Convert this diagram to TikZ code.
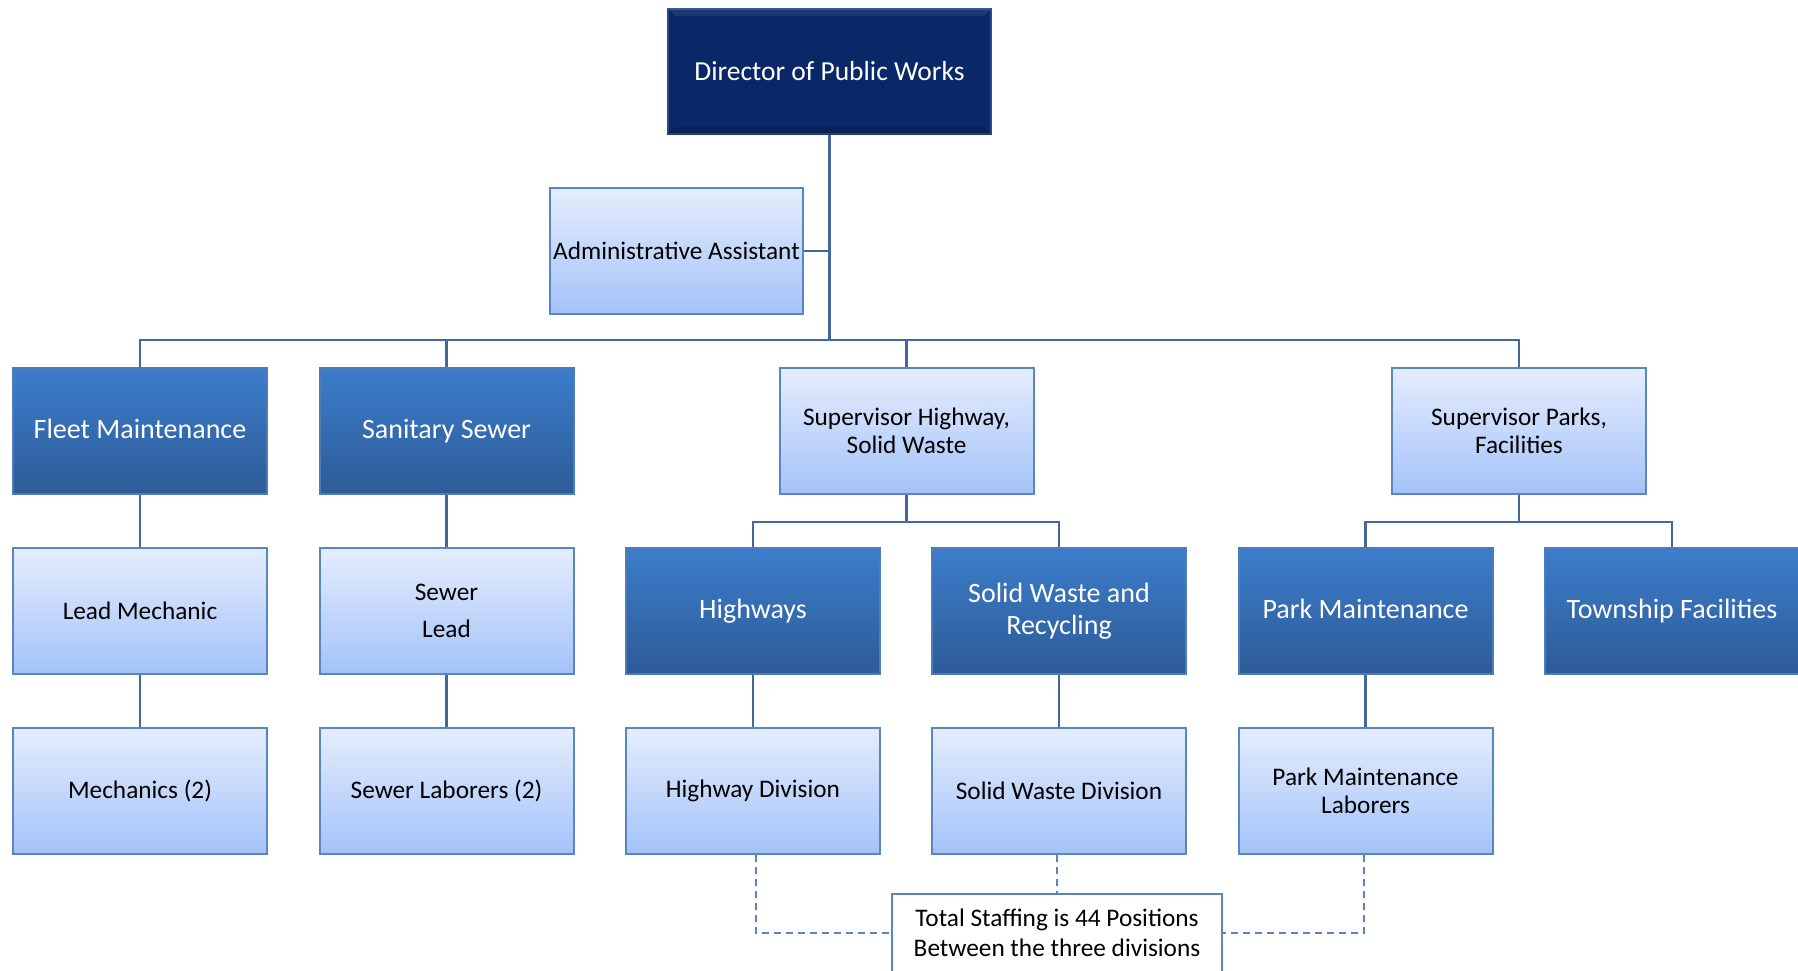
\documentclass[tikz,border=0pt]{standalone}
\usepackage{fontspec}
\setmainfont{Carlito}
\definecolor{darktop}{HTML}{3C7DCB}
\definecolor{darkbot}{HTML}{2D5B97}
\definecolor{darkedge}{HTML}{4D7CB9}
\definecolor{lighttop}{HTML}{E4EDFD}
\definecolor{lightbot}{HTML}{A4C2F9}
\definecolor{lightedge}{HTML}{5A86C0}
\definecolor{linec}{HTML}{41699E}
\definecolor{dashcol}{HTML}{5A86C0}
\definecolor{navy}{HTML}{0A2868}
\definecolor{navyedge}{HTML}{2A4B85}
\tikzset{
  box/.style={rectangle, minimum width=254pt, minimum height=126pt, line width=2pt, inner sep=2pt, align=center},
  darkbox/.style={box, draw=darkedge, top color=darktop, bottom color=darkbot, text=white, font=\fontsize{28}{32}\selectfont},
  lightbox/.style={box, draw=lightedge, top color=lighttop, bottom color=lightbot, text=black, font=\fontsize{25.3}{28.5}\selectfont},
  conn/.style={draw=linec, line width=2.5pt},
  dashc/.style={draw=dashcol, line width=2pt, dash pattern=on 7pt off 5pt},
}
\begin{document}
\begin{tikzpicture}[x=1pt,y=-1pt]
\useasboundingbox (0,0) rectangle (1798,970);
% director
\node[rectangle, minimum width=323pt, minimum height=125pt, fill=navy, draw=navyedge, line width=2pt, text=white, font=\fontsize{27.5}{32}\selectfont] (dir) at (829.5,71.5) {Director of Public Works};
\fill[white, opacity=0.08] (dir.north west) -- (dir.north east) -- ([xshift=-8pt,yshift=-8pt]dir.north east) -- ([xshift=8pt,yshift=-8pt]dir.north west) -- cycle;
\fill[black, opacity=0.15] (dir.south west) -- (dir.south east) -- ([xshift=-8pt,yshift=8pt]dir.south east) -- ([xshift=8pt,yshift=8pt]dir.south west) -- cycle;
\node[lightbox, minimum width=253pt] (admin) at (676.5,251) {Administrative Assistant};
% row 1
\node[darkbox] (fleet) at (140,431) {Fleet Maintenance\vphantom{y}};
\node[darkbox] (sewer) at (446.5,431) {Sanitary Sewer};
\node[lightbox] (suphw) at (906.5,431) {Supervisor Highway,\\Solid Waste};
\node[lightbox] (suppk) at (1519,431) {Supervisor Parks,\\Facilities};
% row 2
\node[lightbox] (leadmech) at (140,611) {Lead Mechanic};
\node[lightbox] (sewerlead) at (446.5,611) {Sewer\\[9pt]Lead};
\node[darkbox] (hw) at (753,611) {Highways};
\node[darkbox] (sw) at (1059,611) {Solid Waste and\\Recycling};
\node[darkbox] (pm) at (1365.5,611) {Park Maintenance\vphantom{y}};
\node[darkbox] (tf) at (1672,611) {Township Facilities};
% row 3
\node[lightbox] (mech) at (140,791) {Mechanics (2)};
\node[lightbox] (laborers) at (446.5,791) {Sewer Laborers (2)};
\node[lightbox] (hwdiv) at (753,791) {Highway Division};
\node[lightbox] (swdiv) at (1059,791) {Solid Waste Division};
\node[lightbox] (pmlab) at (1365.5,791) {Park Maintenance\\Laborers};
% total
\node[rectangle, minimum width=330pt, minimum height=78pt, fill=white, draw=lightedge, line width=1.5pt, align=center, font=\fontsize{25.3}{30}\selectfont] (total) at (1057,933) {Total Staffing is 44 Positions\\Between the three divisions};
% connectors
\coordinate (b0) at (829.5,340);
\draw[conn] (dir.south) -- (b0);
\draw[conn] (admin.east) -- (admin.east -| dir.south);
\draw[conn] (fleet.north) |- (b0) -| (suppk.north);
\draw[conn] (sewer.north) -- (sewer.north |- b0);
\draw[conn] (suphw.north) -- (suphw.north |- b0);
\coordinate (s1) at (906.5,522);
\coordinate (s2) at (1519,522);
\draw[conn] (suphw.south) -- (s1);
\draw[conn] (hw.north) |- (s1) -| (sw.north);
\draw[conn] (suppk.south) -- (s2);
\draw[conn] (pm.north) |- (s2) -| (tf.north);
\draw[conn] (fleet.south) -- (leadmech.north);
\draw[conn] (leadmech.south) -- (mech.north);
\draw[conn] (sewer.south) -- (sewerlead.north);
\draw[conn] (sewerlead.south) -- (laborers.north);
\draw[conn] (hw.south) -- (hwdiv.north);
\draw[conn] (sw.south) -- (swdiv.north);
\draw[conn] (pm.south) -- (pmlab.north);
% dashed
\draw[dashc] ([xshift=3pt]hwdiv.south) |- (total.west);
\draw[dashc] ([xshift=-2pt]pmlab.south) |- (total.east);
\draw[dashc] ([xshift=-2pt]swdiv.south) -- (total.north);
\end{tikzpicture}
\end{document}
